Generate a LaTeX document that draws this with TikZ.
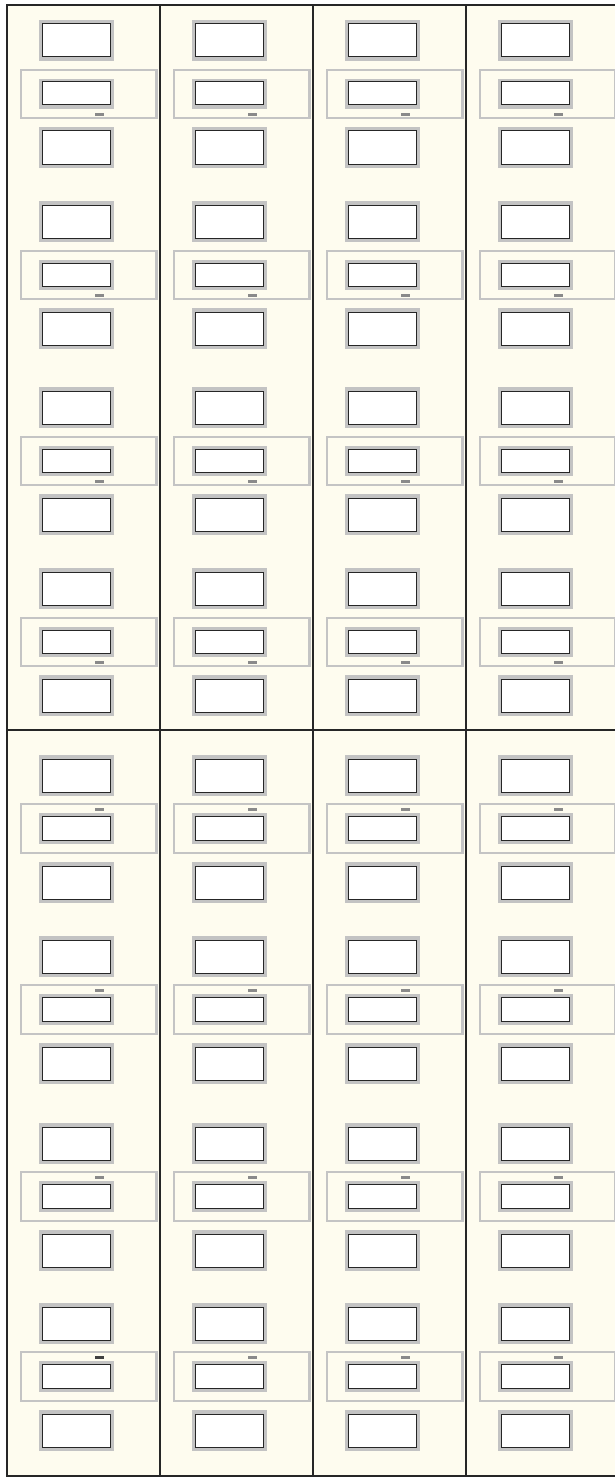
\documentclass[tikz,border=0pt]{standalone}
\definecolor{paper}{HTML}{FEFCEF}
\definecolor{rimgrey}{HTML}{C3C3C3}
\definecolor{framegrey}{HTML}{C4C4C4}
\definecolor{tabgrey}{HTML}{8A8A8A}
\tikzset{
  rim/.style={fill=rimgrey},
  slot/.style={fill=white,draw=black!85,line width=1pt},
  tray/.style={draw=framegrey,line width=2.6pt},
  tab/.style={fill=tabgrey},
  wall/.style={draw=black!85,line width=1.4pt}
}
\begin{document}
\begin{tikzpicture}[x=1pt,y=-1pt]

   \useasboundingbox (0,0) rectangle (615,1477);
   \clip (0,0) rectangle (615,1477);

   \fill [paper] (7,5) rectangle (619,1476);

   % the drawers
   \foreach \c in {0,...,3} {
     \pgfmathsetmacro{\xo}{7+153*\c}
     % upper half, tab below the slot
     \foreach \t in {20,201,387,568} {
       \fill[rim] (\xo+32,\t) rectangle (\xo+107,\t+41);
       \draw[slot] (\xo+35,\t+4) rectangle (\xo+103,\t+37);
       \draw[tray] (\xo+14,\t+50) rectangle (\xo+149.5,\t+98);
       \fill[rim] (\xo+32,\t+59) rectangle (\xo+107,\t+89);
       \draw[slot] (\xo+35,\t+62) rectangle (\xo+103,\t+85);
       \fill[tab] (\xo+88,\t+93) rectangle (\xo+97,\t+96);
       \fill[rim] (\xo+32,\t+107) rectangle (\xo+107,\t+148);
       \draw[slot] (\xo+35,\t+111) rectangle (\xo+103,\t+144);
     }
     % lower half, tab above the slot
     \foreach \t in {755,936,1123,1303} {
       \fill[rim] (\xo+32,\t) rectangle (\xo+107,\t+41);
       \draw[slot] (\xo+35,\t+4) rectangle (\xo+103,\t+37);
       \draw[tray] (\xo+14,\t+49) rectangle (\xo+149.5,\t+98);
       \fill[rim] (\xo+32,\t+58) rectangle (\xo+107,\t+89);
       \draw[slot] (\xo+35,\t+61) rectangle (\xo+103,\t+85);
       \fill[tab] (\xo+88,\t+53) rectangle (\xo+97,\t+56);
       \fill[rim] (\xo+32,\t+107) rectangle (\xo+107,\t+148);
       \draw[slot] (\xo+35,\t+111) rectangle (\xo+103,\t+144);
     }
   }
   \fill[black!75] (95,1356) rectangle (104,1359);

   % walls
   \draw[wall] (7,5) rectangle (619,1476);
   \draw[wall] (7,730) -- (619,730);
   \foreach \x in {160,313,466}
     \draw[wall] (\x,5) -- (\x,1476);

\end{tikzpicture}
\end{document}
